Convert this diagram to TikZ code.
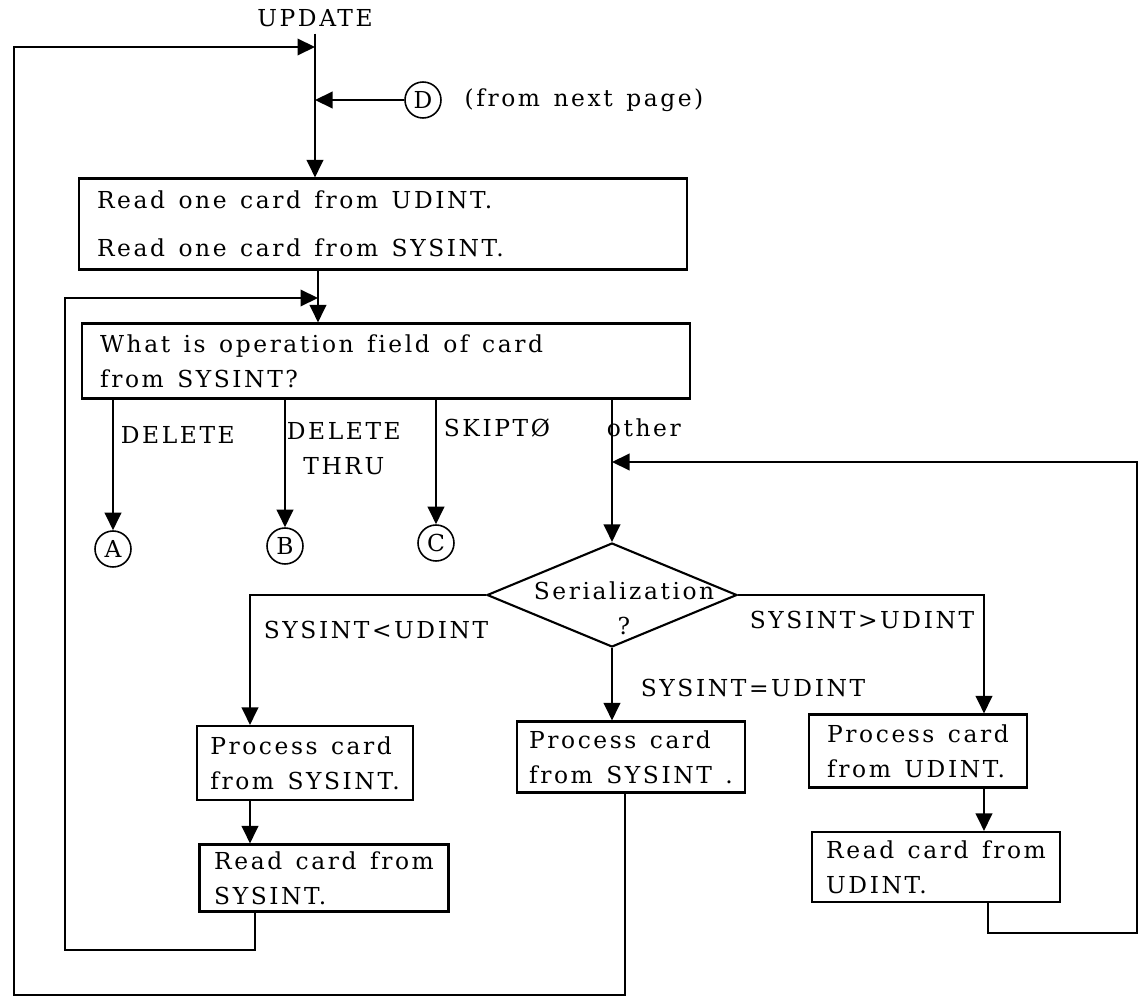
\documentclass[tikz,border=0pt]{standalone}
\usepackage{fontspec}
\setmainfont{DejaVu Serif}[LetterSpace=11,WordSpace=1.35,Ligatures=NoCommon]
\usetikzlibrary{arrows.meta,positioning,shapes.geometric}

\begin{document}
\begin{tikzpicture}[x=0.02cm,y=-0.02cm,>={Triangle[length=3.5mm,width=3.3mm]},line width=1.2pt,
    every node/.style={font=\fontsize{13.3}{20}\selectfont},
    box/.style={draw,rectangle,align=left,inner xsep=0.25cm},
    conn/.style={draw,circle,minimum size=0.72cm,inner sep=0pt,line width=0.9pt},
    decision/.style={draw,diamond,minimum width=5cm,minimum height=2.08cm,inner sep=0pt}]
    \useasboundingbox (0,0) rectangle (1139,1000);

    \node (update) at (315,18) {UPDATE};
    \coordinate (j1) at (315,47);
    \coordinate (j2) at (315,100);
    \node[conn] (d) at (423,100) {D};
    \node[right=0.32cm of d] (fromnext) {(from next page)};

    \node[box,align=flush left,minimum width=12.16cm,minimum height=1.82cm,text width=11.44cm,inner xsep=0.36cm]
        (read1) at (383,224) {Read one card from UDINT.\\[7pt]Read one card from SYSINT.};
    \coordinate (j3) at (318,298);
    \node[box,align=flush left,minimum width=12.16cm,minimum height=1.5cm,text width=11.44cm,inner xsep=0.36cm]
        (whatop) at (386,361) {What is operation field of card\\from SYSINT?};

    \node[conn] (a) at (113,549) {A};
    \node[conn] (b) at (285,546) {B};
    \node[conn] (c) at (436,543) {C};
    \node[anchor=west] (ldel)     at (114,435) {DELETE};
    \node[anchor=west,align=center] (ldelthru) at (280,449) {DELETE\\THRU};
    \node[anchor=west] (lskip)    at (437,428) {SKIPTØ};
    \node[anchor=west] (lother)   at (600,428) {other};
    \coordinate (j4) at (612,462);

    \node[decision] (ser) at (612,595) {};
    \node[align=center] (lser) at (624,608) {Serialization\\?};
    \coordinate (lx) at (250,0);
    \coordinate (rx) at (984,0);
    \node[anchor=west] (llt) at (257,630) {SYSINT<UDINT};
    \node[anchor=west] (lgt) at (743,620) {SYSINT>UDINT};
    \node[anchor=west] (leq) at (634,688) {SYSINT=UDINT};

    \node[box,minimum width=4.32cm,minimum height=1.48cm] (ps1) at (305,763) {Process card\\from SYSINT.};
    \node[box,minimum width=4.98cm,minimum height=1.34cm] (rs1) at (324,878) {Read card from\\SYSINT.};
    \node[box,minimum width=4.32cm,minimum height=1.42cm] (ps2) at (631,757) {Process card\\from SYSINT .};
    \node[box,minimum width=4.36cm,minimum height=1.46cm] (pu)  at (918,751) {Process card\\from UDINT.};
    \node[box,minimum width=4.96cm,minimum height=1.40cm] (ru)  at (936,867) {Read card from\\UDINT.};

    \coordinate (li) at (255,0);
    \coordinate (mo) at (625,0);
    \coordinate (ro) at (988,0);
    \coordinate (cin) at (65,950);
    \coordinate (cout) at (14,995);
    \coordinate (cr) at (1137,933);

    \draw[->] (update.south) -- (read1.north -| update.south);
    \draw[->] (d) -- (j2);
    \draw[->] (read1.south -| j3) -- (whatop.north -| j3);

    \draw[->] (a |- whatop.south) -- (a);
    \draw[->] (b |- whatop.south) -- (b);
    \draw[->] (c |- whatop.south) -- (c);
    \draw[->] (ser.north |- whatop.south) -- (ser.north);

    \draw[->] (ser.west) -| (ps1.north -| lx);
    \draw[->] (ser.south) -- (ps2.north -| ser.south);
    \draw[->] (ser.east) -| (pu.north -| rx);
    \draw[->] (ps1.south -| lx) -- (rs1.north -| lx);
    \draw[->] (pu.south -| rx) -- (ru.north -| rx);

    \draw[->] (rs1.south -| li) |- (cin) |- (j3);
    \draw[->] (ps2.south -| mo) |- (cout) |- (j1);
    \draw[->] (ru.south -| ro) |- (cr) |- (j4);
\end{tikzpicture}
\end{document}
